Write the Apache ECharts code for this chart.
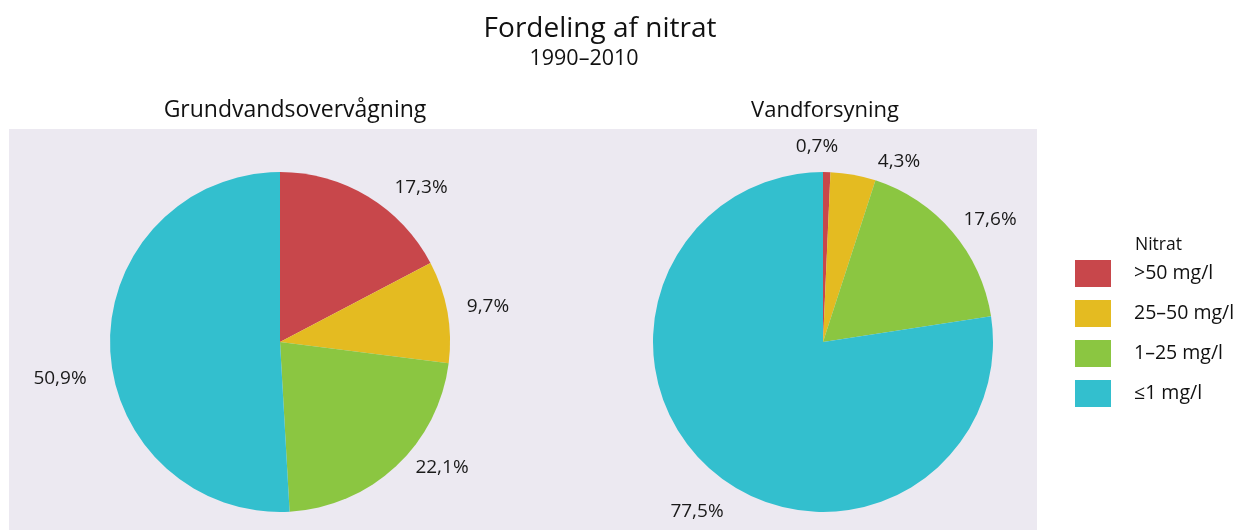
<!DOCTYPE html>
<html>
<head>
<meta charset="utf-8">
<script src="https://cdn.jsdelivr.net/npm/echarts@6/dist/echarts.min.js"></script>
<style>
  html, body { margin: 0; padding: 0; background: #fff; }
  #chart { width: 1240px; height: 530px; }
</style>
</head>
<body>
<div id="chart"></div>
<script>
var categories = ['>50 mg/l', '25\u201350 mg/l', '1\u201325 mg/l', '\u22641 mg/l'];
var colors = ['#c8474b', '#e4bb21', '#8bc641', '#33bfce'];
var grundvand = [17.3, 9.7, 22.1, 50.9];
var vandforsyning = [0.7, 4.3, 17.6, 77.5];

// hand-placed label centres, as in the original graphic
var labelSpots = [
    [[421, 188], [488, 307], [442, 468], [60, 379]],
    [[817, 147], [899, 162], [990, 220], [697, 512]]
];

var font = '"Open Sans", "Noto Sans", sans-serif';

function toData(values) {
    return values.map(function (v, i) {
        return { name: categories[i], value: v };
    });
}

function fmt(p) {
    return p.value.toFixed(1).replace('.', ',') + '%';
}

function pie(name, values, cx, idx) {
    return {
        name: name,
        type: 'pie',
        center: [cx, 342],
        radius: 170,
        startAngle: 90,
        silent: true,
        data: toData(values),
        label: {
            show: true,
            position: 'outside',
            formatter: fmt,
            fontFamily: font,
            fontSize: 19,
            color: '#1a1a1a'
        },
        labelLine: { show: false, length: 14, length2: 0 },
        labelLayout: function (p) {
            var s = labelSpots[idx][p.dataIndex];
            return { x: s[0], y: s[1], align: 'center', verticalAlign: 'middle' };
        },
        itemStyle: { borderWidth: 0 }
    };
}

var chart = echarts.init(document.getElementById('chart'));

chart.setOption({
    animation: false,
    color: colors,
    textStyle: { fontFamily: font },
    title: [
        { text: 'Fordeling af nitrat', left: 595, top: 10, textAlign: 'center',
          textStyle: { fontSize: 28, fontWeight: 'normal', color: '#111', fontFamily: font } },
        { text: '1990\u20132010', left: 579, top: 43, textAlign: 'center',
          textStyle: { fontSize: 21.5, fontWeight: 'normal', color: '#111', fontFamily: font } },
        { text: 'Grundvandsovervågning', left: 290, top: 94, textAlign: 'center',
          textStyle: { fontSize: 23, fontWeight: 'normal', color: '#111', fontFamily: font } },
        { text: 'Vandforsyning', left: 820, top: 95, textAlign: 'center',
          textStyle: { fontSize: 22, fontWeight: 'normal', color: '#111', fontFamily: font } },
        { text: 'Nitrat', left: 1130, top: 231,
          textStyle: { fontSize: 17.5, fontWeight: 'normal', color: '#111', fontFamily: font } }
    ],
    graphic: [
        { type: 'rect', z: -10, shape: { x: 9, y: 129, width: 1028, height: 401 },
          style: { fill: '#ece9f1' } }
    ],
    legend: {
        orient: 'vertical',
        left: 1075,
        top: 260,
        padding: 0,
        itemWidth: 36,
        itemHeight: 27,
        itemGap: 13,
        icon: 'rect',
        data: categories,
        textStyle: { fontSize: 19.5, color: '#111', fontFamily: font, padding: [0, 0, 0, 18] }
    },
    series: [
        pie('Grundvandsovervågning', grundvand, 280, 0),
        pie('Vandforsyning', vandforsyning, 823, 1)
    ]
});
</script>
</body>
</html>
